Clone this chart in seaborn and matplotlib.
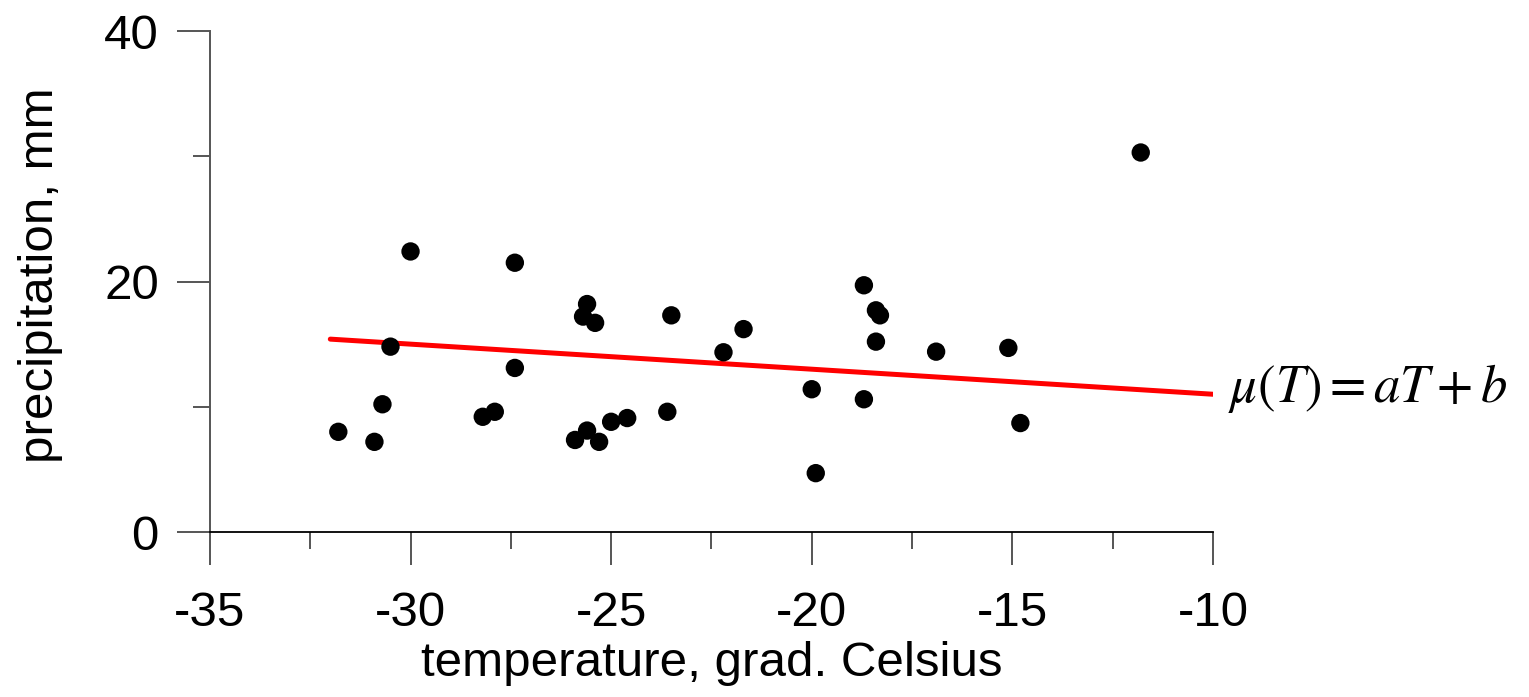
import matplotlib
matplotlib.use("Agg")
import matplotlib.pyplot as plt
import seaborn as sns
import pandas as pd
from matplotlib.ticker import MultipleLocator

# Data
temperature = [-30.0, -27.4, -25.6, -25.7, -25.4, -23.5, -30.5, -27.4, -30.7, -31.8,
               -30.9, -28.2, -27.9, -25.9, -25.6, -25.3, -25.0, -24.6, -23.6, -21.7,
               -22.2, -18.7, -18.4, -18.3, -18.4, -16.9, -15.1, -20.0, -18.7, -14.8,
               -19.9, -11.8]
precipitation = [22.4, 21.5, 18.2, 17.2, 16.7, 17.3, 14.8, 13.1, 10.2, 8.0,
                 7.2, 9.2, 9.6, 7.35, 8.1, 7.2, 8.8, 9.1, 9.6, 16.2,
                 14.35, 19.7, 17.7, 17.3, 15.2, 14.4, 14.7, 11.4, 10.6, 8.7,
                 4.7, 30.3]
line_T = [-32.0, -10.0]
line_mu = [15.4, 11.0]

x_ticks = [-35, -30, -25, -20, -15, -10]
y_ticks = [0, 20, 40]

df = pd.DataFrame({"temperature": temperature, "precipitation": precipitation})
fit = pd.DataFrame({"T": line_T, "mu": line_mu})

sns.set_theme(style="white")
plt.rcParams["font.family"] = ["Liberation Sans", "DejaVu Sans"]
plt.rcParams["mathtext.fontset"] = "stix"

fig = plt.figure(figsize=(15.29, 6.97), dpi=100)
ax = fig.add_axes([0.1373, 0.2367, 0.656, 0.7188])

sns.scatterplot(data=df, x="temperature", y="precipitation", ax=ax,
                color="black", s=175, edgecolor="none", linewidth=0, zorder=3)
sns.lineplot(data=fit, x="T", y="mu", ax=ax, color="red", linewidth=3.6,
             solid_capstyle="round", zorder=2)

ax.set_xlim(-35, -10)
ax.set_ylim(0, 40)
ax.set_xticks(x_ticks)
ax.set_yticks(y_ticks)
ax.xaxis.set_minor_locator(MultipleLocator(2.5))
ax.yaxis.set_minor_locator(MultipleLocator(10))

for s in ["top", "right"]:
    ax.spines[s].set_visible(False)
ax.spines["left"].set_color("#555555")
ax.spines["left"].set_linewidth(1.4)
ax.spines["bottom"].set_color("black")
ax.spines["bottom"].set_linewidth(1.3)

ax.tick_params(axis="both", which="major", direction="out", length=23.8,
               width=1.4, color="#555555", labelsize=35.5, labelcolor="black")
ax.tick_params(axis="both", which="minor", direction="out", length=11.9,
               width=1.4, color="#555555")
ax.tick_params(axis="x", which="major", pad=19, bottom=True)
ax.tick_params(axis="x", which="minor", bottom=True)
ax.tick_params(axis="y", which="major", pad=13, left=True)
ax.tick_params(axis="y", which="minor", left=True)

ax.set_xticklabels([str(v) for v in x_ticks])
ax.set_yticklabels([str(v) for v in y_ticks])

ax.set_xlabel("temperature, grad. Celsius", fontsize=35.5, color="black")
ax.set_ylabel("precipitation, mm", fontsize=35.5, color="black")
ax.xaxis.set_label_coords(0.5, -0.218)
ax.yaxis.set_label_coords(-0.146, 0.513)

ax.text(-9.63, 10.38, r"$\mu\left(T\right) = aT + b$", fontsize=38,
        ha="left", va="baseline", color="black", clip_on=False)

ax.grid(False)
fig.savefig("out.png", dpi=100, facecolor="white")
